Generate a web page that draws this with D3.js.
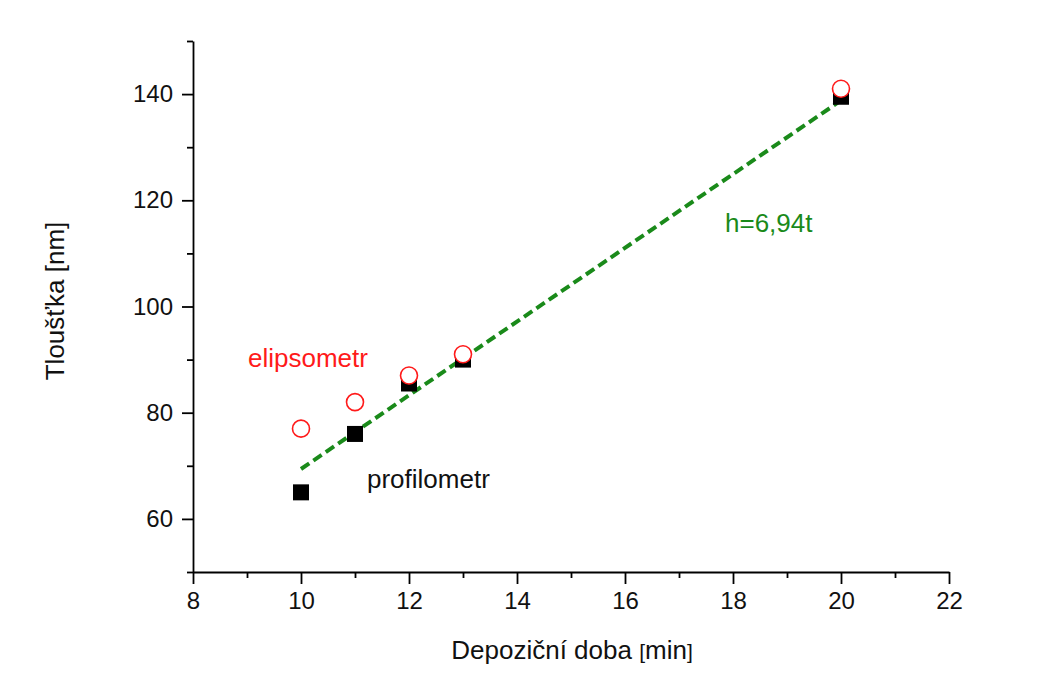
<!DOCTYPE html>
<meta charset="utf-8">
<title>Tloustka</title>
<style>
body { margin: 0; background: #fff; }
svg { font-family: "Liberation Sans", Arial, sans-serif; }
.axis path, .axis line { stroke: #000; stroke-width: 1.8; }
.axis text { font-size: 24px; fill: #111; }
</style>
<script src="https://d3js.org/d3.v7.min.js"></script>
<body>
<script>

var width = 1047, height = 675;

// thickness vs deposition time
var times = [10, 11, 12, 13, 20];
var profilometr = [65, 76, 85.5, 90, 139.5];
var elipsometr = [77, 82, 87, 91, 141];
var slope = 6.94;           // h = 6,94 t
var fitRange = [10, 20];

var xTicks = [8, 10, 12, 14, 16, 18, 20, 22];
var yTicks = [60, 80, 100, 120, 140];

var svg = d3.select("body").append("svg")
    .attr("width", width)
    .attr("height", height);

var x = d3.scaleLinear().domain([8, 22]).range([193, 949]);
var y = d3.scaleLinear().domain([50, 150]).range([572, 41]);

// minor ticks first (no labels)
svg.append("g")
    .attr("class", "axis")
    .attr("transform", "translate(0,572)")
    .call(d3.axisBottom(x).tickValues(d3.range(9, 22, 2)).tickSize(6).tickFormat(""))
    .select(".domain").remove();

svg.append("g")
    .attr("class", "axis")
    .attr("transform", "translate(193,0)")
    .call(d3.axisLeft(y).tickValues(d3.range(50, 151, 20)).tickSize(6).tickFormat(""))
    .select(".domain").remove();

svg.append("g")
    .attr("class", "axis")
    .attr("transform", "translate(0,572)")
    .call(d3.axisBottom(x).tickValues(xTicks).tickSize(12).tickSizeOuter(0).tickPadding(8));

svg.append("g")
    .attr("class", "axis")
    .attr("transform", "translate(193,0)")
    .call(d3.axisLeft(y).tickValues(yTicks).tickSize(11).tickSizeOuter(0).tickPadding(9));

// fit line
svg.append("line")
    .attr("x1", x(fitRange[0])).attr("y1", y(slope * fitRange[0]))
    .attr("x2", x(fitRange[1])).attr("y2", y(slope * fitRange[1]))
    .attr("stroke", "#1a8a1a")
    .attr("stroke-width", 4)
    .attr("stroke-dasharray", "10,5");

// profilometr squares
svg.selectAll("rect.prof")
    .data(times)
  .enter().append("rect")
    .attr("class", "prof")
    .attr("x", function(d) { return x(d) - 8; })
    .attr("y", function(d, i) { return y(profilometr[i]) - 8; })
    .attr("width", 16)
    .attr("height", 16)
    .attr("fill", "#000");

// elipsometr circles
svg.selectAll("circle.elip")
    .data(times)
  .enter().append("circle")
    .attr("class", "elip")
    .attr("cx", function(d) { return x(d); })
    .attr("cy", function(d, i) { return y(elipsometr[i]); })
    .attr("r", 8.5)
    .attr("fill", "#fff")
    .attr("stroke", "#ff1a1a")
    .attr("stroke-width", 1.6);

// labels
svg.append("text")
    .attr("x", 248).attr("y", 367)
    .attr("font-size", 26)
    .attr("fill", "#ff1a1a")
    .text("elipsometr");

svg.append("text")
    .attr("x", 367).attr("y", 488)
    .attr("font-size", 26)
    .attr("fill", "#111")
    .text("profilometr");

svg.append("text")
    .attr("x", 725).attr("y", 232)
    .attr("font-size", 26)
    .attr("fill", "#1a8a1a")
    .text("h=6,94t");

// axis titles
var xt = svg.append("text")
    .attr("x", 572).attr("y", 659)
    .attr("text-anchor", "middle")
    .attr("font-size", 26)
    .attr("fill", "#111");
xt.append("tspan").text("Depoziční doba ");
xt.append("tspan").attr("font-size", 21).text("[");
xt.append("tspan").text("min");
xt.append("tspan").attr("font-size", 21).text("]");

svg.append("text")
    .attr("transform", "translate(64,301) rotate(-90)")
    .attr("text-anchor", "middle")
    .attr("font-size", 26)
    .attr("fill", "#111")
    .text("Tloušťka [nm]");

</script>
